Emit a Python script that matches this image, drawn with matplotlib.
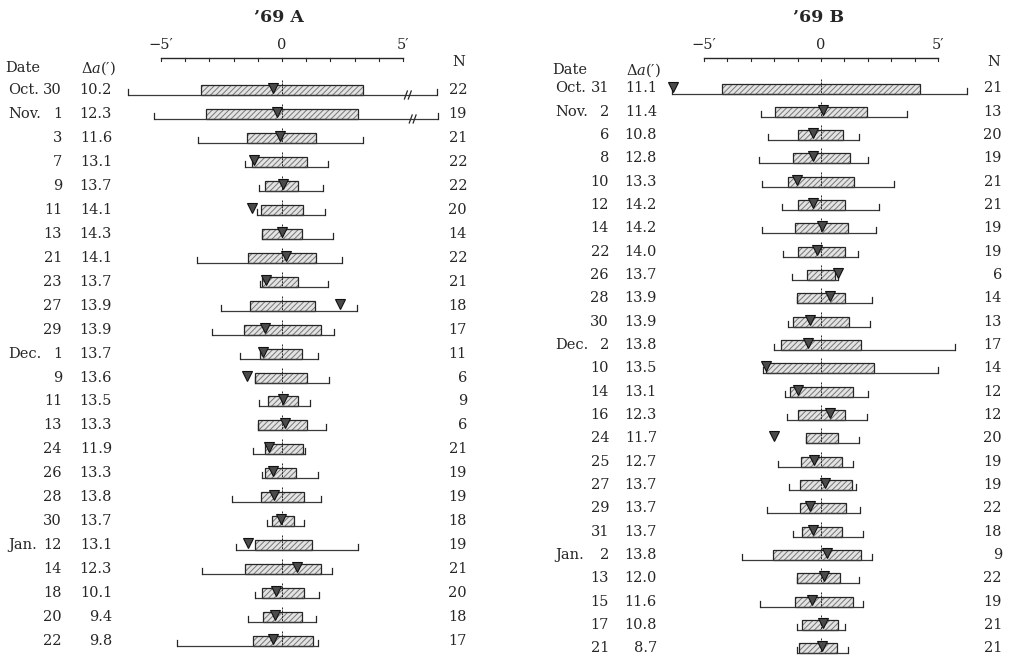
import matplotlib
matplotlib.use("Agg")
import matplotlib.pyplot as plt
import matplotlib.transforms as mtransforms
from matplotlib.patches import Rectangle

plt.rcParams['font.family'] = ['DejaVu Serif']
plt.rcParams['mathtext.fontset'] = 'dejavuserif'
plt.rcParams['hatch.linewidth'] = 0.7

W, H = 1010, 658

# ---------------- data: '69 A ----------------
A_month = ["Oct.", "Nov.", "", "", "", "", "", "", "", "", "", "Dec.", "", "", "", "", "", "", "",
           "Jan.", "", "", "", ""]
A_day = ["30", "1", "3", "7", "9", "11", "13", "21", "23", "27", "29", "1", "9", "11", "13", "24",
         "26", "28", "30", "12", "14", "18", "20", "22"]
A_da = ["10.2", "12.3", "11.6", "13.1", "13.7", "14.1", "14.3", "14.1", "13.7", "13.9", "13.9", "13.7",
        "13.6", "13.5", "13.3", "11.9", "13.3", "13.8", "13.7", "13.1", "12.3", "10.1", "9.4", "9.8"]
A_n = [22, 19, 21, 22, 22, 20, 14, 22, 21, 18, 17, 11, 6, 9, 6, 21, 19, 19, 18, 19, 21, 20, 18, 17]
A_wlo = [-6.36, -5.29, -3.47, -1.53, -0.95, -1.03, -0.83, -3.51, -0.91, -2.52, -2.89, -1.74,
         -1.12, -0.95, -0.99, -1.20, -0.83, -2.07, -0.62, -1.90, -3.31, -1.12, -1.40, -4.34]
A_qlo = [-3.35, -3.14, -1.45, -1.24, -0.70, -0.87, -0.83, -1.40, -0.83, -1.32, -1.57, -0.91,
         -1.12, -0.58, -0.99, -0.70, -0.70, -0.87, -0.41, -1.12, -1.53, -0.83, -0.79, -1.20]
A_qhi = [3.35, 3.14, 1.40, 1.03, 0.66, 0.87, 0.83, 1.40, 0.66, 1.36, 1.61, 0.83,
         1.03, 0.66, 1.03, 0.87, 0.58, 0.91, 0.50, 1.24, 1.61, 0.91, 0.83, 1.28]
A_whi = [6.40, 6.45, 3.35, 1.90, 1.69, 1.78, 2.11, 2.48, 1.90, 3.10, 2.15, 1.49,
         1.94, 1.16, 1.82, 0.95, 1.49, 1.61, 0.91, 3.14, 2.07, 1.53, 1.40, 1.49]
A_tri = [-0.37, -0.20, -0.08, -1.16, 0.04, -1.24, 0.00, 0.17, -0.66, 2.40, -0.70, -0.79,
         -1.45, 0.04, 0.12, -0.54, -0.37, -0.33, -0.04, -1.40, 0.62, -0.25, -0.29, -0.37]
A_break_rows = [0, 1]
A_break_pos = [5.2, 5.4]

# ---------------- data: '69 B ----------------
B_month = ["Oct.", "Nov.", "", "", "", "", "", "", "", "", "", "Dec.", "", "", "", "", "", "", "", "",
           "Jan.", "", "", "", ""]
B_day = ["31", "2", "6", "8", "10", "12", "14", "22", "26", "28", "30", "2", "10", "14", "16", "24",
         "25", "27", "29", "31", "2", "13", "15", "17", "21"]
B_da = ["11.1", "11.4", "10.8", "12.8", "13.3", "14.2", "14.2", "14.0", "13.7", "13.9", "13.9", "13.8",
        "13.5", "13.1", "12.3", "11.7", "12.7", "13.7", "13.7", "13.7", "13.8", "12.0", "11.6", "10.8", "8.7"]
B_n = [21, 13, 20, 19, 21, 21, 19, 19, 6, 14, 13, 17, 14, 12, 12, 20, 19, 19, 22, 18, 9, 22, 19, 21, 21]
B_wlo = [-6.37, -2.56, -2.26, -2.65, -2.52, -1.67, -2.52, -1.62, -1.24, -1.03, -1.41, -2.01, -2.48,
         -1.54, -1.45, -0.64, -1.84, -1.37, -2.31, -1.20, -3.38, -1.03, -2.61, -1.03, -1.03]
B_qlo = [-4.23, -1.97, -0.98, -1.20, -1.41, -0.98, -1.11, -0.98, -0.60, -1.03, -1.20, -1.71, -2.35,
         -1.32, -0.98, -0.64, -0.85, -0.90, -0.90, -0.81, -2.05, -1.03, -1.11, -0.81, -0.94]
B_qhi = [4.23, 1.97, 0.94, 1.24, 1.41, 1.03, 1.15, 1.03, 0.60, 1.03, 1.20, 1.71, 2.26,
         1.37, 1.03, 0.73, 0.90, 1.32, 1.07, 0.90, 1.71, 0.81, 1.37, 0.73, 0.68]
B_whi = [6.24, 3.68, 1.62, 2.01, 3.12, 2.48, 2.35, 1.58, 0.73, 2.18, 2.09, 5.73, 5.00,
         2.01, 1.97, 1.62, 1.37, 1.50, 1.67, 1.79, 2.18, 1.62, 1.79, 1.03, 1.15]
B_tri = [-6.32, 0.09, -0.34, -0.34, -1.03, -0.34, 0.04, -0.17, 0.73, 0.38, -0.47, -0.56, -2.35,
         -0.98, 0.38, -2.01, -0.30, 0.17, -0.47, -0.34, 0.26, 0.13, -0.38, 0.09, 0.04]
B_break_rows = []
B_break_pos = []

scale_ticks = list(range(-5, 6))
scale_labels = {-5: "\u22125\u2032", 0: "0", 5: "5\u2032"}

INK = "#262626"

fig = plt.figure(figsize=(W / 100, H / 100), dpi=100)
lay = fig.add_axes([0, 0, 1, 1])
lay.set_xlim(0, W)
lay.set_ylim(H, 0)
lay.axis('off')


def panel(title, month, day, da, n, wlo, qlo, qhi, whi, tri, brows, bpos,
          x0, sx, y0, sy, xcols, title_x, hdr_y, n_hdr_x):
    ax = fig.add_axes([0, 0, 1, 1])
    ax.set_xlim(-x0 / sx, (W - x0) / sx)
    ax.set_ylim((H - y0) / sy, -y0 / sy)
    ax.axis('off')
    ax.patch.set_alpha(0)
    tr = mtransforms.blended_transform_factory(lay.transData, ax.transData)

    # title
    lay.text(title_x, 17, title, ha='center', va='center', fontsize=12.5,
             fontweight='bold', color=INK)
    # scale
    ys = (58 - y0) / sy
    ax.plot([scale_ticks[0], scale_ticks[-1]], [ys, ys], color=INK, lw=1.0)
    for t in scale_ticks:
        ax.plot([t, t], [ys, ys + 3.0 / sy], color=INK, lw=0.8)
        if t in scale_labels:
            ax.text(t, ys - 13.0 / sy, scale_labels[t], ha='center', va='center',
                    fontsize=10.5, color=INK)
    # headers
    mx, dx, ax_da, nx = xcols
    lay.text(mx - 3, hdr_y, "Date", ha='left', va='center', fontsize=10.5, color=INK)
    lay.text(ax_da + 4, hdr_y, "$\\mathit{\\Delta a}$(\u2032)",
             ha='right', va='center', fontsize=10.5, color=INK)
    lay.text(n_hdr_x, 62, "N", ha='center', va='center', fontsize=10.5, color=INK)

    bh = 10.0 / sy
    for i in range(len(day)):
        yb = i + bh / 2
        # row text
        if month[i]:
            ax.text(mx, i, month[i], transform=tr, ha='left', va='center', fontsize=10.5, color=INK)
        ax.text(dx, i, day[i], transform=tr, ha='right', va='center', fontsize=10.5, color=INK)
        ax.text(ax_da, i, da[i], transform=tr, ha='right', va='center', fontsize=10.5, color=INK)
        ax.text(nx, i, str(n[i]), transform=tr, ha='right', va='center', fontsize=10.5, color=INK)
        # whisker
        ax.plot([wlo[i], whi[i]], [yb, yb], color='#3a3a3a', lw=0.9, solid_capstyle='butt')
        for w in (wlo[i], whi[i]):
            ax.plot([w, w], [yb, yb - 6.0 / sy], color=INK, lw=0.9)
        # box
        ax.add_patch(Rectangle((qlo[i], i - bh / 2), qhi[i] - qlo[i], bh,
                               facecolor='#e3e3e3', edgecolor='#777777', hatch='//////', lw=0))
        ax.add_patch(Rectangle((qlo[i], i - bh / 2), qhi[i] - qlo[i], bh,
                               facecolor='none', edgecolor=INK, lw=0.9))
        # zero tick
        ax.plot([0, 0], [i - bh / 2 - 5.0 / sy, yb], color=INK, lw=0.7, ls=(0, (2, 1)))
        # triangle
        ax.plot(tri[i], i - 2.0 / sy, marker='v', ms=7.5, color='#4a4a4a',
                markeredgecolor='#111111', mew=0.8, ls='none', zorder=5)
    # axis breaks
    for r, p in zip(brows, bpos):
        yb = r + bh / 2
        for d in (-0.08, 0.08):
            ax.plot([p + d - 0.06, p + d + 0.06], [yb + 4.0 / sy, yb - 4.0 / sy],
                    color=INK, lw=0.9)
    return ax


panel("\u201969 A", A_month, A_day, A_da, A_n, A_wlo, A_qlo, A_qhi, A_whi, A_tri,
      A_break_rows, A_break_pos,
      x0=282, sx=24.2, y0=90, sy=23.96, xcols=(8, 62, 112, 467),
      title_x=279, hdr_y=68, n_hdr_x=459)
panel("\u201969 B", B_month, B_day, B_da, B_n, B_wlo, B_qlo, B_qhi, B_whi, B_tri,
      B_break_rows, B_break_pos,
      x0=821, sx=23.4, y0=88.5, sy=23.33, xcols=(555, 609, 657, 1002),
      title_x=819, hdr_y=70, n_hdr_x=994)

fig.savefig("out.png", dpi=100, facecolor='white')
